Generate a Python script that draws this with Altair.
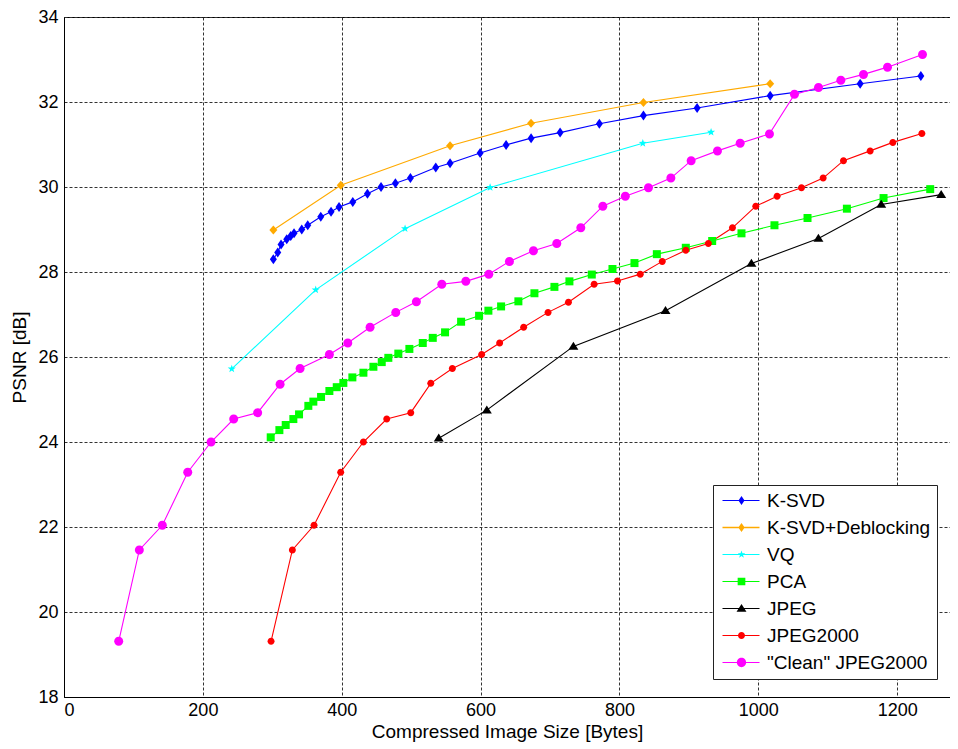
import math
import altair as alt
import pandas as pd

# ---------------- data ----------------
series_names = ["K-SVD", "K-SVD+Deblocking", "VQ", "PCA", "JPEG", "JPEG2000", '"Clean" JPEG2000']
series_colors = ["#0000ff", "#ffaa00", "#00ffff", "#00ff00", "#000000", "#ff0000", "#ff00ff"]

ksvd_x = [301.5, 307.8, 312.6, 320.8, 326.5, 331.3, 342.4, 351.0, 369.8, 384.6, 396.1, 415.9, 437.0,
          456.6, 477.3, 498.9, 535.4, 556.0, 599.3, 636.7, 672.7, 714.5, 771.0, 834.5, 911.8, 1017.0,
          1146.6, 1234.0]
ksvd_y = [28.30, 28.46, 28.65, 28.77, 28.85, 28.91, 29.00, 29.10, 29.30, 29.42, 29.53, 29.65, 29.84,
          30.00, 30.09, 30.21, 30.46, 30.56, 30.80, 30.99, 31.15, 31.28, 31.49, 31.68, 31.86, 32.15,
          32.43, 32.61]

deblock_x = [301.5, 398.6, 556.0, 672.6, 834.5, 1017.0]
deblock_y = [28.99, 30.04, 30.97, 31.50, 31.99, 32.43]

vq_x = [241.6, 362.5, 491.2, 613.7, 833.6, 931.9]
vq_y = [25.72, 27.58, 29.02, 29.99, 31.03, 31.29]

pca_x = [297.7, 310.2, 319.3, 330.3, 338.5, 351.9, 359.1, 370.2, 382.2, 392.8, 402.3, 415.3, 431.2,
         445.6, 457.6, 467.1, 481.5, 497.4, 516.7, 531.1, 548.8, 571.9, 597.8, 611.2, 629.5, 654.4,
         677.5, 706.3, 727.9, 760.1, 789.9, 821.6, 853.8, 895.5, 933.5, 975.7, 1023.2, 1070.8, 1127.5,
         1180.3, 1247.5]
pca_y = [24.11, 24.28, 24.40, 24.54, 24.65, 24.85, 24.95, 25.06, 25.20, 25.29, 25.39, 25.52, 25.63,
         25.77, 25.88, 25.98, 26.08, 26.19, 26.33, 26.45, 26.58, 26.83, 26.97, 27.09, 27.19, 27.31,
         27.50, 27.65, 27.78, 27.94, 28.07, 28.21, 28.42, 28.57, 28.73, 28.91, 29.10, 29.27, 29.49,
         29.74, 29.95]

jpeg_x = [539.7, 608.9, 733.6, 866.3, 990.0, 1086.5, 1176.9, 1263.3]
jpeg_y = [24.09, 24.75, 26.25, 27.09, 28.20, 28.79, 29.59, 29.82]

j2k_x = [298.2, 328.9, 360.1, 398.5, 431.2, 464.8, 499.4, 528.2, 559.3, 601.5, 627.4, 662.0, 697.1,
         726.5, 763.5, 797.1, 829.9, 861.6, 895.5, 928.0, 962.7, 996.3, 1027.0, 1062.1, 1093.3,
         1122.6, 1161.0, 1193.7, 1235.5]
j2k_y = [19.31, 21.46, 22.04, 23.29, 24.00, 24.54, 24.69, 25.38, 25.73, 26.06, 26.33, 26.70, 27.05,
         27.29, 27.71, 27.79, 27.95, 28.25, 28.51, 28.67, 29.04, 29.55, 29.78, 29.98, 30.21, 30.62,
         30.85, 31.05, 31.26]

clean_x = [78.8, 108.5, 141.6, 178.2, 211.8, 244.4, 278.9, 311.2, 340.0, 382.2, 408.7, 440.8, 477.8,
           507.5, 544.1, 578.7, 611.8, 641.5, 676.1, 709.7, 744.3, 776.0, 808.4, 841.7, 874.0, 903.2,
           941.1, 973.8, 1016.0, 1052.0, 1086.6, 1118.8, 1151.4, 1186.0, 1236.4]
clean_y = [19.31, 21.46, 22.04, 23.29, 24.00, 24.54, 24.69, 25.36, 25.73, 26.06, 26.33, 26.70, 27.05,
           27.30, 27.71, 27.78, 27.95, 28.25, 28.50, 28.67, 29.04, 29.55, 29.78, 29.98, 30.21, 30.62,
           30.85, 31.03, 31.25, 32.18, 32.34, 32.51, 32.65, 32.82, 33.12]

x_ticks = [0, 200, 400, 600, 800, 1000, 1200]
y_ticks = [18, 20, 22, 24, 26, 28, 30, 32, 34]

all_x = [ksvd_x, deblock_x, vq_x, pca_x, jpeg_x, j2k_x, clean_x]
all_y = [ksvd_y, deblock_y, vq_y, pca_y, jpeg_y, j2k_y, clean_y]

rows = []
for name, xs, ys in zip(series_names, all_x, all_y):
    for i, (xv, yv) in enumerate(zip(xs, ys)):
        rows.append({"series": name, "x": xv, "y": yv, "i": i})
df = pd.DataFrame(rows)
legend_df = pd.DataFrame({"series": series_names})


# ---------------- marker shapes (unit paths) ----------------
def diamond(hw, hh, cx=0.0):
    return f"M{cx:.3f},{-hh:.3f}L{cx + hw:.3f},0L{cx:.3f},{hh:.3f}L{cx - hw:.3f},0Z"


def square(h, cx=0.0):
    return f"M{cx - h:.3f},{-h:.3f}H{cx + h:.3f}V{h:.3f}H{cx - h:.3f}Z"


def triangle(hw, up, down, cx=0.0):
    return f"M{cx:.3f},{-up:.3f}L{cx + hw:.3f},{down:.3f}L{cx - hw:.3f},{down:.3f}Z"


def circle(r, cx=0.0):
    return (f"M{cx - r:.3f},0A{r:.3f},{r:.3f} 0 1 1 {cx + r:.3f},0"
            f"A{r:.3f},{r:.3f} 0 1 1 {cx - r:.3f},0Z")


def star(ro, ri, cx=0.0):
    pts = []
    for k in range(10):
        a = -math.pi / 2 + k * math.pi / 5
        r = ro if k % 2 == 0 else ri
        pts.append((cx + r * math.cos(a), r * math.sin(a)))
    return "M" + "L".join(f"{px:.3f},{py:.3f}" for px, py in pts) + "Z"


# chart markers (size 100 -> 5 px per unit)
chart_shapes = [
    diamond(0.7, 1.0),
    diamond(0.8, 0.9),
    star(0.85, 0.34),
    square(0.8),
    triangle(1.0, 0.95, 0.65),
    circle(0.7),
    circle(0.9),
]


# legend symbols: line segment + marker (size 256 -> 8 px per unit)
def seg(t=0.0625):
    return f"M-0.75,{-t:.4f}H3.875V{t:.4f}H-0.75Z"


mc = 1.625
legend_shapes = [
    seg() + diamond(0.38, 0.56, mc),
    seg(0.1) + diamond(0.4, 0.56, mc),
    seg() + star(0.5, 0.2, mc),
    seg() + square(0.48, mc),
    seg() + triangle(0.62, 0.56, 0.42, mc),
    seg() + circle(0.44, mc),
    seg() + circle(0.58, mc),
]

FONT = "Liberation Sans"

x_enc = alt.X("x:Q", scale=alt.Scale(domain=[0, 1276], nice=False, zero=False),
              axis=alt.Axis(values=x_ticks, title="Compressed Image Size [Bytes]", format="d",
                            labelPadding=4, titlePadding=3))
y_enc = alt.Y("y:Q", scale=alt.Scale(domain=[18, 34], nice=False, zero=False),
              axis=alt.Axis(values=y_ticks, title="PSNR [dB]", format="d",
                            labelPadding=6, titlePadding=8))

color_scale = alt.Scale(domain=series_names, range=series_colors)

lines = alt.Chart(df).mark_line(strokeWidth=1.1).encode(
    x=x_enc, y=y_enc,
    color=alt.Color("series:N", scale=color_scale, legend=None),
    order="i:Q",
)

points = alt.Chart(df).mark_point(filled=True, size=100, opacity=1).encode(
    x=x_enc, y=y_enc,
    color=alt.Color("series:N", scale=color_scale, legend=None),
    shape=alt.Shape("series:N", scale=alt.Scale(domain=series_names, range=chart_shapes), legend=None),
)

leg_params = dict(
    orient="none", legendX=649, legendY=468, title=None, padding=6,
    fillColor="white", strokeColor="#222222", symbolSize=256, symbolStrokeWidth=0,
    symbolOpacity=1, labelFontSize=19, labelFont=FONT, labelColor="black",
    labelOffset=29, rowPadding=7, labelLimit=400,
)

legend_layer = alt.Chart(legend_df).mark_point(filled=True, size=256, opacity=0).encode(
    color=alt.Color("series:N", scale=color_scale, legend=alt.Legend(**leg_params)),
    shape=alt.Shape("series:N", scale=alt.Scale(domain=series_names, range=legend_shapes),
                    legend=alt.Legend(**leg_params)),
)

chart = (
    alt.layer(lines, points, legend_layer)
    .resolve_scale(color="independent", shape="independent")
    .properties(
        width=886, height=680,
        padding={"left": 56, "top": 9, "right": 0, "bottom": 45},
        autosize=alt.AutoSizeParams(type="none"),
        background="white",
    )
    .configure_view(stroke="black", strokeWidth=1)
    .configure_axis(
        labelFont=FONT, titleFont=FONT, labelFontSize=18, titleFontSize=19,
        titleFontWeight="normal", labelColor="black", titleColor="black",
        domainColor="black", domainWidth=1, ticks=False, tickSize=0,
        grid=True, gridColor="#333333", gridDash=[3, 2], gridWidth=1, gridOpacity=1,
    )
)

chart.save("out.html", embed_options={"renderer": "svg", "actions": False})
